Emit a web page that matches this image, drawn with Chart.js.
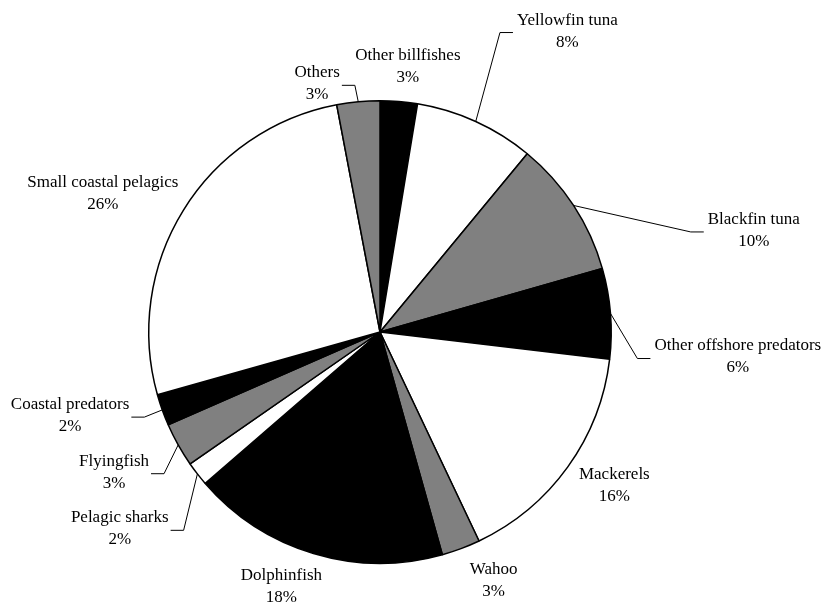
<!DOCTYPE html>
<html>
<head>
<meta charset="utf-8">
<script src="https://cdn.jsdelivr.net/npm/chart.js@4.4.1/dist/chart.umd.min.js"></script>
<style>
  html, body { margin: 0; padding: 0; background: #ffffff; }
  #wrap { width: 826px; height: 605px; }
</style>
</head>
<body>
<div id="wrap"><canvas id="c" width="826" height="605"></canvas></div>
<script>
// ---- Data ----
const categories = [
  "Other billfishes", "Yellowfin tuna", "Blackfin tuna", "Other offshore predators",
  "Mackerels", "Wahoo", "Dolphinfish", "Pelagic sharks", "Flyingfish",
  "Coastal predators", "Small coastal pelagics", "Others"
];
const shares = [2.6, 8.4, 9.6, 6.3, 16.1, 2.7, 18.0, 1.7, 3.1, 2.2, 26.4, 3.0];
const sliceColors = [
  "#000000", "#ffffff", "#808080", "#000000", "#ffffff", "#808080",
  "#000000", "#ffffff", "#808080", "#000000", "#ffffff", "#808080"
];

// Label placement: [angle clockwise from 12 o'clock (deg), distance in pie radii]
const labelPlacement = [
  [6.0, 1.153], [31.9, 1.533], [74.8, 1.675], [94.0, 1.551],
  [123.2, 1.211], [155.4, 1.180], [201.2, 1.179], [232.9, 1.411],
  [242.2, 1.300], [254.9, 1.388], [296.5, 1.339], [345.8, 1.107]
];
const hasLeader = [false, true, true, true, false, false, false, true, true, true, false, true];

const FONT = '17px "Liberation Serif", "Times New Roman", serif';

const labelPlugin = {
  id: 'pieLabels',
  afterDraw(chart) {
    const ctx = chart.ctx;
    const meta = chart.getDatasetMeta(0);
    const data = chart.data.datasets[0].data;
    const total = data.reduce((a, b) => a + b, 0);
    ctx.save();
    ctx.font = FONT;
    ctx.fillStyle = '#000';
    ctx.strokeStyle = '#000';
    ctx.lineWidth = 1;
    ctx.textAlign = 'center';
    ctx.textBaseline = 'middle';
    meta.data.forEach((arc, i) => {
      const p = arc.getProps(['x', 'y', 'startAngle', 'endAngle', 'outerRadius'], true);
      const r = p.outerRadius;
      const th = labelPlacement[i][0] * Math.PI / 180;
      const d = labelPlacement[i][1] * r;
      const lx = p.x + d * Math.sin(th);
      const ly = p.y - d * Math.cos(th);
      const line1 = chart.data.labels[i];
      const line2 = Math.round(data[i] / total * 100) + '%';
      ctx.fillText(line1, lx, ly - 11);
      ctx.fillText(line2, lx, ly + 11);
      if (hasLeader[i]) {
        const mid = (p.startAngle + p.endAngle) / 2;
        const sx = p.x + r * Math.cos(mid);
        const sy = p.y + r * Math.sin(mid);
        const w = Math.max(ctx.measureText(line1).width, ctx.measureText(line2).width);
        let ex, bx;
        if (lx > p.x) { ex = lx - w / 2 - 4; bx = ex - 13; }
        else { ex = lx + w / 2 + 2; bx = ex + 13; }
        const ey = ly + 1.5;
        ctx.beginPath();
        ctx.moveTo(sx, sy);
        ctx.lineTo(bx, ey);
        ctx.lineTo(ex, ey);
        ctx.stroke();
      }
    });
    ctx.restore();
  }
};

new Chart(document.getElementById('c'), {
  type: 'pie',
  data: {
    labels: categories,
    datasets: [{
      data: shares,
      backgroundColor: sliceColors,
      borderColor: '#000000',
      borderWidth: 1.5,
      hoverOffset: 0,
      offset: 0
    }]
  },
  options: {
    responsive: false,
    animation: false,
    devicePixelRatio: 1,
    layout: { padding: { left: 148, right: 214, top: 100, bottom: 41 } },
    plugins: {
      legend: { display: false },
      tooltip: { enabled: false },
      title: { display: false }
    }
  },
  plugins: [labelPlugin]
});
</script>
</body>
</html>
